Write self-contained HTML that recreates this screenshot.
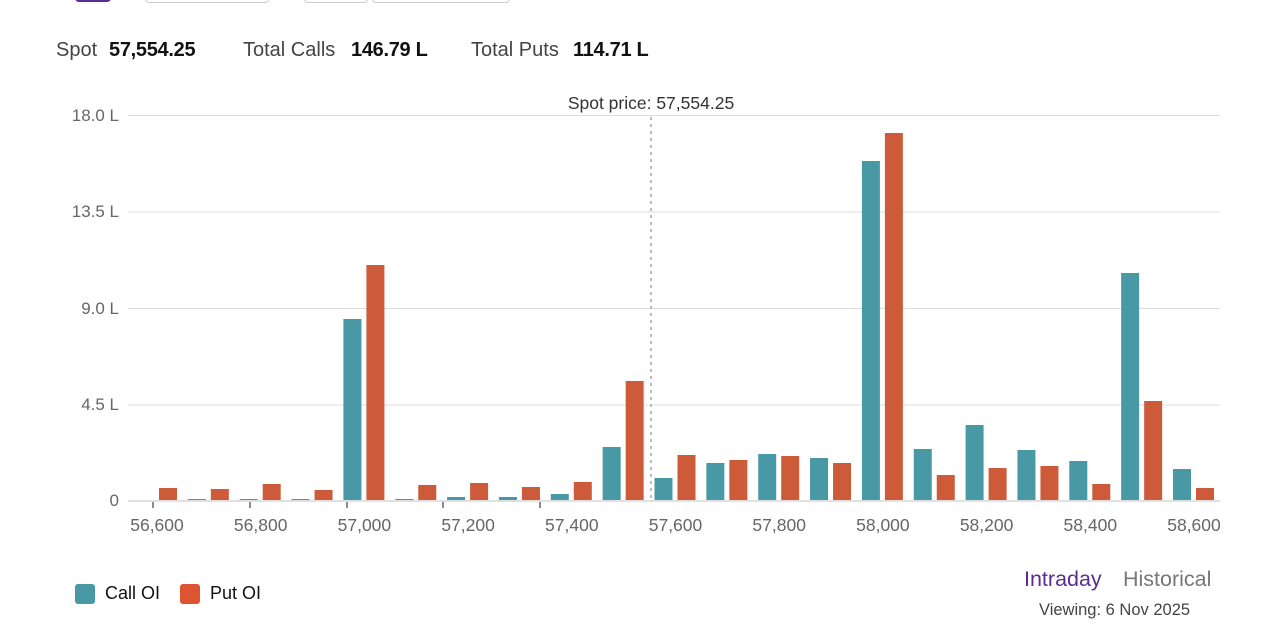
<!DOCTYPE html>
<html><head><meta charset="utf-8"><style>
body{margin:0;width:1273px;height:631px;background:#fff;font-family:"Liberation Sans",sans-serif;overflow:hidden;position:relative}
.t{position:absolute;white-space:nowrap}
</style></head><body>
<div class="t" style="left:75px;top:-6px;width:36px;height:8px;background:#5b2d91;border-radius:4px"></div>
<div class="t" style="left:145px;top:-6px;width:122px;height:7px;border:1px solid #ccc;border-radius:4px"></div>
<div class="t" style="left:304px;top:-6px;width:62px;height:7px;border:1px solid #ccc;border-radius:4px"></div>
<div class="t" style="left:372px;top:-6px;width:136px;height:7px;border:1px solid #ccc;border-radius:4px"></div>
<div class="t" style="left:56px;top:39px;font-size:20px;color:#444">Spot</div>
<div class="t" style="left:109px;top:39px;font-size:20px;color:#111;font-weight:bold;letter-spacing:-0.3px">57,554.25</div>
<div class="t" style="left:243px;top:39px;font-size:20px;color:#444">Total Calls</div>
<div class="t" style="left:351px;top:39px;font-size:20px;color:#111;font-weight:bold;letter-spacing:-0.3px">146.79 L</div>
<div class="t" style="left:471px;top:39px;font-size:20px;color:#444">Total Puts</div>
<div class="t" style="left:573px;top:39px;font-size:20px;color:#111;font-weight:bold;letter-spacing:-0.3px">114.71 L</div>
<svg width="1273" height="631" style="position:absolute;left:0;top:0" font-family="Liberation Sans, sans-serif">
<g stroke="#dcdcdc" stroke-width="1">
<line x1="128" x2="1220" y1="115.5" y2="115.5"/><line x1="128" x2="1220" y1="212" y2="212"/><line x1="128" x2="1220" y1="308.5" y2="308.5"/><line x1="128" x2="1220" y1="405" y2="405"/>
</g>
<g font-size="17" fill="#666" text-anchor="end">
<text x="119" y="121">18.0 L</text><text x="119" y="217">13.5 L</text><text x="119" y="314">9.0 L</text><text x="119" y="410">4.5 L</text><text x="119" y="506">0</text>
</g>
<g id="bars"></g>
<line x1="128" x2="1220" y1="501" y2="501" stroke="#e0e0e0" stroke-width="2"/>
<line x1="651" x2="651" y1="117" y2="500" stroke="#bbb" stroke-width="2" stroke-dasharray="3,4"/>
<text x="651" y="109" font-size="17.5" fill="#333" text-anchor="middle">Spot price: 57,554.25</text>
<g stroke="#666" stroke-width="1.5">
<line x1="153" x2="153" y1="502" y2="508"/><line x1="250" x2="250" y1="502" y2="508"/><line x1="347" x2="347" y1="502" y2="508"/><line x1="443" x2="443" y1="502" y2="508"/><line x1="540" x2="540" y1="502" y2="508"/>
</g>
<g font-size="17.5" fill="#666" text-anchor="middle" id="xl"></g>
</svg>
<div class="t" style="left:75px;top:584px;width:20px;height:20px;background:#4899a5;border-radius:3px"></div>
<div class="t" style="left:105px;top:583px;font-size:18px;color:#111">Call OI</div>
<div class="t" style="left:180px;top:584px;width:20px;height:20px;background:#dc5530;border-radius:3px"></div>
<div class="t" style="left:210px;top:583px;font-size:18px;color:#111">Put OI</div>
<div class="t" style="left:1024px;top:567px;font-size:21.5px;color:#5b2d91">Intraday</div>
<div class="t" style="left:1123px;top:567px;font-size:21.5px;color:#777">Historical</div>
<div class="t" style="left:1039px;top:601px;font-size:16.5px;color:#444">Viewing: 6 Nov 2025</div>
<script>
var calls=[500,499,499,499,319,499,497,497,494,447,478,463,454,458,161,449,425,450,461,273,469];
var puts=[488,489,484,490,265,485,483,487,482,381,455,460,456,463,133,475,468,466,484,401,488];
var s='',l='';
for(var i=0;i<21;i++){var c=157+51.85*i;
s+='<rect x="'+(c-21)+'" y="'+calls[i]+'" width="18" height="'+(501-calls[i])+'" fill="#4899a5"/>';
s+='<rect x="'+(c+2)+'" y="'+puts[i]+'" width="18" height="'+(501-puts[i])+'" fill="#cd5b3a"/>';
if(i%2==0){var v=56600+i*100;l+='<text x="'+c+'" y="531">'+v.toLocaleString('en-US')+'</text>';}}
document.getElementById('bars').innerHTML=s;document.getElementById('xl').innerHTML=l;
</script>
</body></html>
